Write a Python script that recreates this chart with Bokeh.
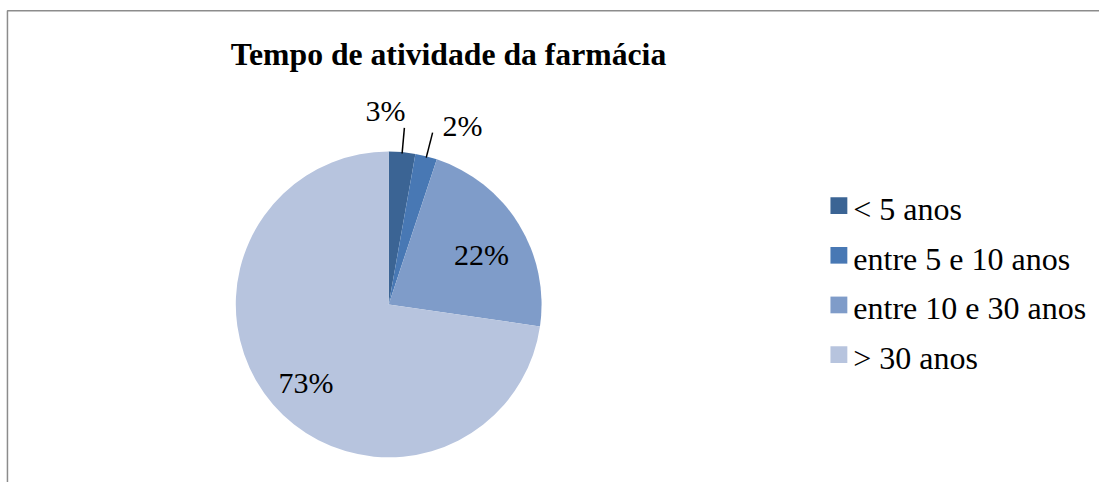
import math
from bokeh.plotting import figure
from bokeh.models import Range1d
from bokeh.core.properties import value
from bokeh.embed import file_html
from bokeh.resources import INLINE

# ---- data ----
title_text = "Tempo de atividade da farmácia"
categories = ["< 5 anos", "entre 5 e 10 anos", "entre 10 e 30 anos", "> 30 anos"]
values = [2.8, 2.3, 22.2, 72.7]
colors = ["#3B6494", "#4878B4", "#7F9CC9", "#B7C4DE"]

# ---- layout (reference pixel coordinates) ----
W, H = 1099, 482
FONT = "'Liberation Serif', 'Times New Roman', serif"
TXT_SHIFT = 7  # visual correction of text baseline


def Y(img_y):
    return 490 - img_y


def TY(img_y):
    return 490 - img_y + TXT_SHIFT


p = figure(width=W, height=H, output_backend="svg", toolbar_location=None,
           x_range=Range1d(0, 1107), y_range=Range1d(0, 490),
           min_border=0, outline_line_color=None, background_fill_color="white",
           border_fill_color="white")
p.axis.visible = False
p.grid.visible = False

# chart border (left and top edges visible)
p.line(x=[7, 7, 1107], y=[Y(500), Y(10.5), Y(10.5)], line_color="#8c8c8c", line_width=1.5)

# title
p.text(x=[232], y=[TY(62)], text=[title_text], text_font=value(FONT),
       text_font_size="31.7px", text_font_style="bold", text_color="black",
       text_align="left", text_baseline="alphabetic")

# pie
cx, cy, r = 391, Y(309), 154
total = sum(values)
starts, ends, mids = [], [], []
cum = 0.0
for v in values:
    a0 = math.pi / 2 - 2 * math.pi * cum / total
    cum += v
    a1 = math.pi / 2 - 2 * math.pi * cum / total
    starts.append(a0)
    ends.append(a1)
    mids.append((a0 + a1) / 2)

p.wedge(x=[cx] * len(values), y=[cy] * len(values), radius=r,
        start_angle=starts, end_angle=ends, direction="clock",
        fill_color=colors, line_color=None)

# percentage labels
label_r = [1.17, 1.17, 0.69, 0.74]
for i, v in enumerate(values):
    txt = f"{round(v)}%"
    a = mids[i]
    lx = cx + label_r[i] * r * math.cos(a)
    ly = cy + label_r[i] * r * math.sin(a)
    if label_r[i] > 1:
        ex = cx + r * math.cos(a)
        ey = cy + r * math.sin(a)
        p.line(x=[ex, lx], y=[ey, ly], line_color="black", line_width=1.5)
        if i == 0:
            p.text(x=[lx + 1], y=[ly + 11 + TXT_SHIFT], text=[txt], text_font=value(FONT),
                   text_font_size="30px", text_color="black",
                   text_align="right", text_baseline="alphabetic")
        else:
            p.text(x=[lx + 10], y=[ly + TXT_SHIFT], text=[txt], text_font=value(FONT),
                   text_font_size="30px", text_color="black",
                   text_align="left", text_baseline="alphabetic")
    else:
        p.text(x=[lx + 3], y=[ly - 12 + TXT_SHIFT], text=[txt], text_font=value(FONT),
               text_font_size="30px", text_color="black",
               text_align="center", text_baseline="alphabetic")

# legend
leg_x, leg_y0, leg_dy, sq = 844.5, 208.5, 50.5, 17
for i, c in enumerate(categories):
    yc = leg_y0 + i * leg_dy
    p.rect(x=[leg_x], y=[Y(yc)], width=sq, height=sq, fill_color=colors[i], line_color=None)
    p.text(x=[859], y=[TY(yc + 10.5)], text=[c], text_font=value(FONT),
           text_font_size="32px", text_color="black",
           text_align="left", text_baseline="alphabetic")

open("out.html", "w").write(file_html(p, INLINE))
